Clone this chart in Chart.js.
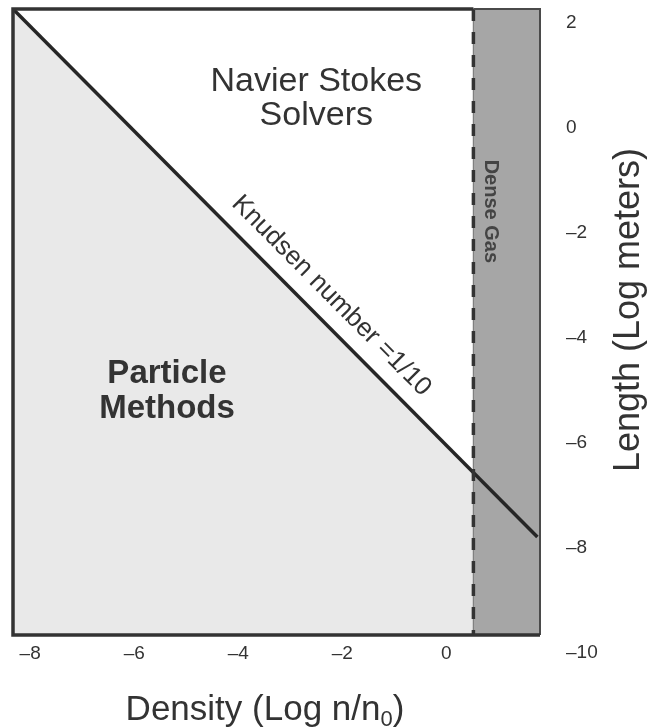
<!DOCTYPE html>
<html>
<head>
<meta charset="utf-8">
<script src="https://cdn.jsdelivr.net/npm/chart.js@4.4.1/dist/chart.umd.min.js"></script>
<style>
    body { margin: 0; background: #fff; }
    #wrap { width: 651px; height: 727px; }
</style>
</head>
<body>
<div id="wrap"><canvas id="regimeChart" width="651" height="727"></canvas></div>
<script>
// Axis ranges in log units (frame of the plot) and tick labels
const xRange = [-8.33, 1.8];
const yRange = [-9.67, 2.27];
const xTicks = [-8, -6, -4, -2, 0];
const yTicks = [2, 0, -2, -4, -6, -8, -10];

// Knudsen number = 1/10 boundary
const knudsenX = [-8.33, 1.75];
const knudsenY = [2.27, -7.8];

// Dense gas regime starts at this density
const denseGasX = 0.52;

const FONT = '"Liberation Sans", Arial, sans-serif';
const INK = '#333333';

function pts(xs, ys) {
    return xs.map((v, i) => ({ x: v, y: ys[i] }));
}

function minusLabel(value) {
    return String(value).replace('-', '\u2013');
}

// Region names, titles and the Knudsen label
const textPlugin = {
    id: 'regionText',
    afterDatasetsDraw(chart) {
        const { ctx, scales: { x, y } } = chart;
        ctx.save();
        ctx.fillStyle = INK;
        ctx.textAlign = 'center';
        ctx.textBaseline = 'alphabetic';

        ctx.font = '34px ' + FONT;
        ctx.fillText('Navier Stokes', x.getPixelForValue(-2.5), y.getPixelForValue(0.7));
        ctx.fillText('Solvers', x.getPixelForValue(-2.5), y.getPixelForValue(0.05));

        ctx.font = 'bold 33px ' + FONT;
        ctx.fillText('Particle', x.getPixelForValue(-5.37), y.getPixelForValue(-4.87));
        ctx.fillText('Methods', x.getPixelForValue(-5.37), y.getPixelForValue(-5.54));

        // label along the Knudsen line
        const x0 = x.getPixelForValue(knudsenX[0]), y0 = y.getPixelForValue(knudsenY[0]);
        const x1 = x.getPixelForValue(knudsenX[1]), y1 = y.getPixelForValue(knudsenY[1]);
        const angle = Math.atan2(y1 - y0, x1 - x0);
        ctx.save();
        ctx.translate(x.getPixelForValue(-2.21), y.getPixelForValue(-3.2));
        ctx.rotate(angle);
        ctx.textBaseline = 'middle';
        ctx.font = '26px ' + FONT;
        ctx.fillText('Knudsen number =1/10', 0, 0);
        ctx.restore();

        // dense gas label, reads top to bottom
        ctx.save();
        ctx.translate(x.getPixelForValue(0.85), y.getPixelForValue(-1.59));
        ctx.rotate(Math.PI / 2);
        ctx.textBaseline = 'middle';
        ctx.fillStyle = '#444';
        ctx.font = 'bold 20px ' + FONT;
        ctx.fillText('Dense Gas', 0, 0);
        ctx.restore();

        // y title, reads bottom to top
        ctx.save();
        ctx.translate(chart.width - 22, 310);
        ctx.rotate(-Math.PI / 2);
        ctx.textBaseline = 'middle';
        ctx.font = '36px ' + FONT;
        ctx.fillText('Length (Log meters)', 0, 0);
        ctx.restore();

        // x title with subscript
        const main = 'Density (Log n/n';
        ctx.font = '35px ' + FONT;
        const wMain = ctx.measureText(main).width;
        ctx.font = '22px ' + FONT;
        const wSub = ctx.measureText('0').width;
        ctx.font = '35px ' + FONT;
        const wEnd = ctx.measureText(')').width;
        let tx = 265 - (wMain + wSub + wEnd) / 2;
        const ty = 720;
        ctx.textAlign = 'left';
        ctx.fillText(main, tx, ty);
        tx += wMain;
        ctx.font = '22px ' + FONT;
        ctx.fillText('0', tx, ty + 6);
        tx += wSub;
        ctx.font = '35px ' + FONT;
        ctx.fillText(')', tx, ty);
        ctx.restore();
    }
};

const ctx = document.getElementById('regimeChart').getContext('2d');
window.regimeChart = new Chart(ctx, {
    type: 'line',
    data: {
        datasets: [{
            // outer frame, heavy part
            data: pts([denseGasX, xRange[0], xRange[0], xRange[1]], [yRange[1], yRange[1], yRange[0], yRange[0]]),
            borderColor: INK,
            borderWidth: 3.5,
            pointRadius: 0,
            fill: false,
            clip: false,
            order: 0
        }, {
            // frame over the dense gas strip, thin
            data: pts([denseGasX, xRange[1], xRange[1]], [yRange[1], yRange[1], yRange[0]]),
            borderColor: '#4a4a4a',
            borderWidth: 2,
            pointRadius: 0,
            fill: false,
            clip: false,
            order: 1
        }, {
            // dense gas boundary, dashed
            data: pts([denseGasX, denseGasX], [yRange[1], yRange[0]]),
            borderColor: INK,
            borderWidth: 3.5,
            borderDash: [12, 11],
            pointRadius: 0,
            fill: false,
            order: 2
        }, {
            // Knudsen line
            data: pts(knudsenX, knudsenY),
            borderColor: '#262626',
            borderWidth: 3.5,
            pointRadius: 0,
            fill: false,
            order: 3
        }, {
            // thin edge under the dashes
            data: pts([denseGasX, denseGasX], [yRange[1], yRange[0]]),
            borderColor: '#808080',
            borderWidth: 1,
            pointRadius: 0,
            fill: false,
            order: 4
        }, {
            // dense gas strip
            data: pts([denseGasX, xRange[1]], [yRange[1], yRange[1]]),
            borderWidth: 0,
            borderColor: 'rgba(0,0,0,0)',
            backgroundColor: '#a6a6a6',
            pointRadius: 0,
            fill: 'start',
            order: 5
        }, {
            // particle methods region, under the Knudsen line
            data: pts(knudsenX, knudsenY),
            borderWidth: 0,
            borderColor: 'rgba(0,0,0,0)',
            backgroundColor: '#e9e9e9',
            pointRadius: 0,
            fill: 'start',
            order: 6
        }]
    },
    options: {
        responsive: false,
        animation: false,
        events: [],
        layout: { padding: { left: 13, top: 9, right: 0, bottom: 0 } },
        plugins: {
            legend: { display: false },
            tooltip: { enabled: false }
        },
        scales: {
            x: {
                type: 'linear',
                min: xRange[0],
                max: xRange[1],
                grid: { display: false, drawTicks: false },
                border: { display: false },
                afterBuildTicks: (scale) => { scale.ticks = xTicks.map(v => ({ value: v })); },
                afterFit: (scale) => {
                    scale.height = 92;
                    scale.paddingLeft = 0;
                    scale.paddingRight = 0;
                },
                ticks: {
                    autoSkip: false,
                    maxRotation: 0,
                    padding: 7,
                    color: INK,
                    font: { family: FONT, size: 19 },
                    callback: minusLabel
                }
            },
            y: {
                type: 'linear',
                position: 'right',
                min: yRange[0],
                max: yRange[1],
                grid: { display: false, drawTicks: false },
                border: { display: false },
                afterBuildTicks: (scale) => { scale.ticks = yTicks.map(v => ({ value: v })); },
                afterFit: (scale) => {
                    scale.width = 111;
                    scale.paddingTop = 0;
                    scale.paddingBottom = 0;
                },
                ticks: {
                    autoSkip: false,
                    padding: 26,
                    color: INK,
                    font: { family: FONT, size: 19 },
                    callback: minusLabel
                }
            }
        }
    },
    plugins: [textPlugin]
});
</script>
</body>
</html>
